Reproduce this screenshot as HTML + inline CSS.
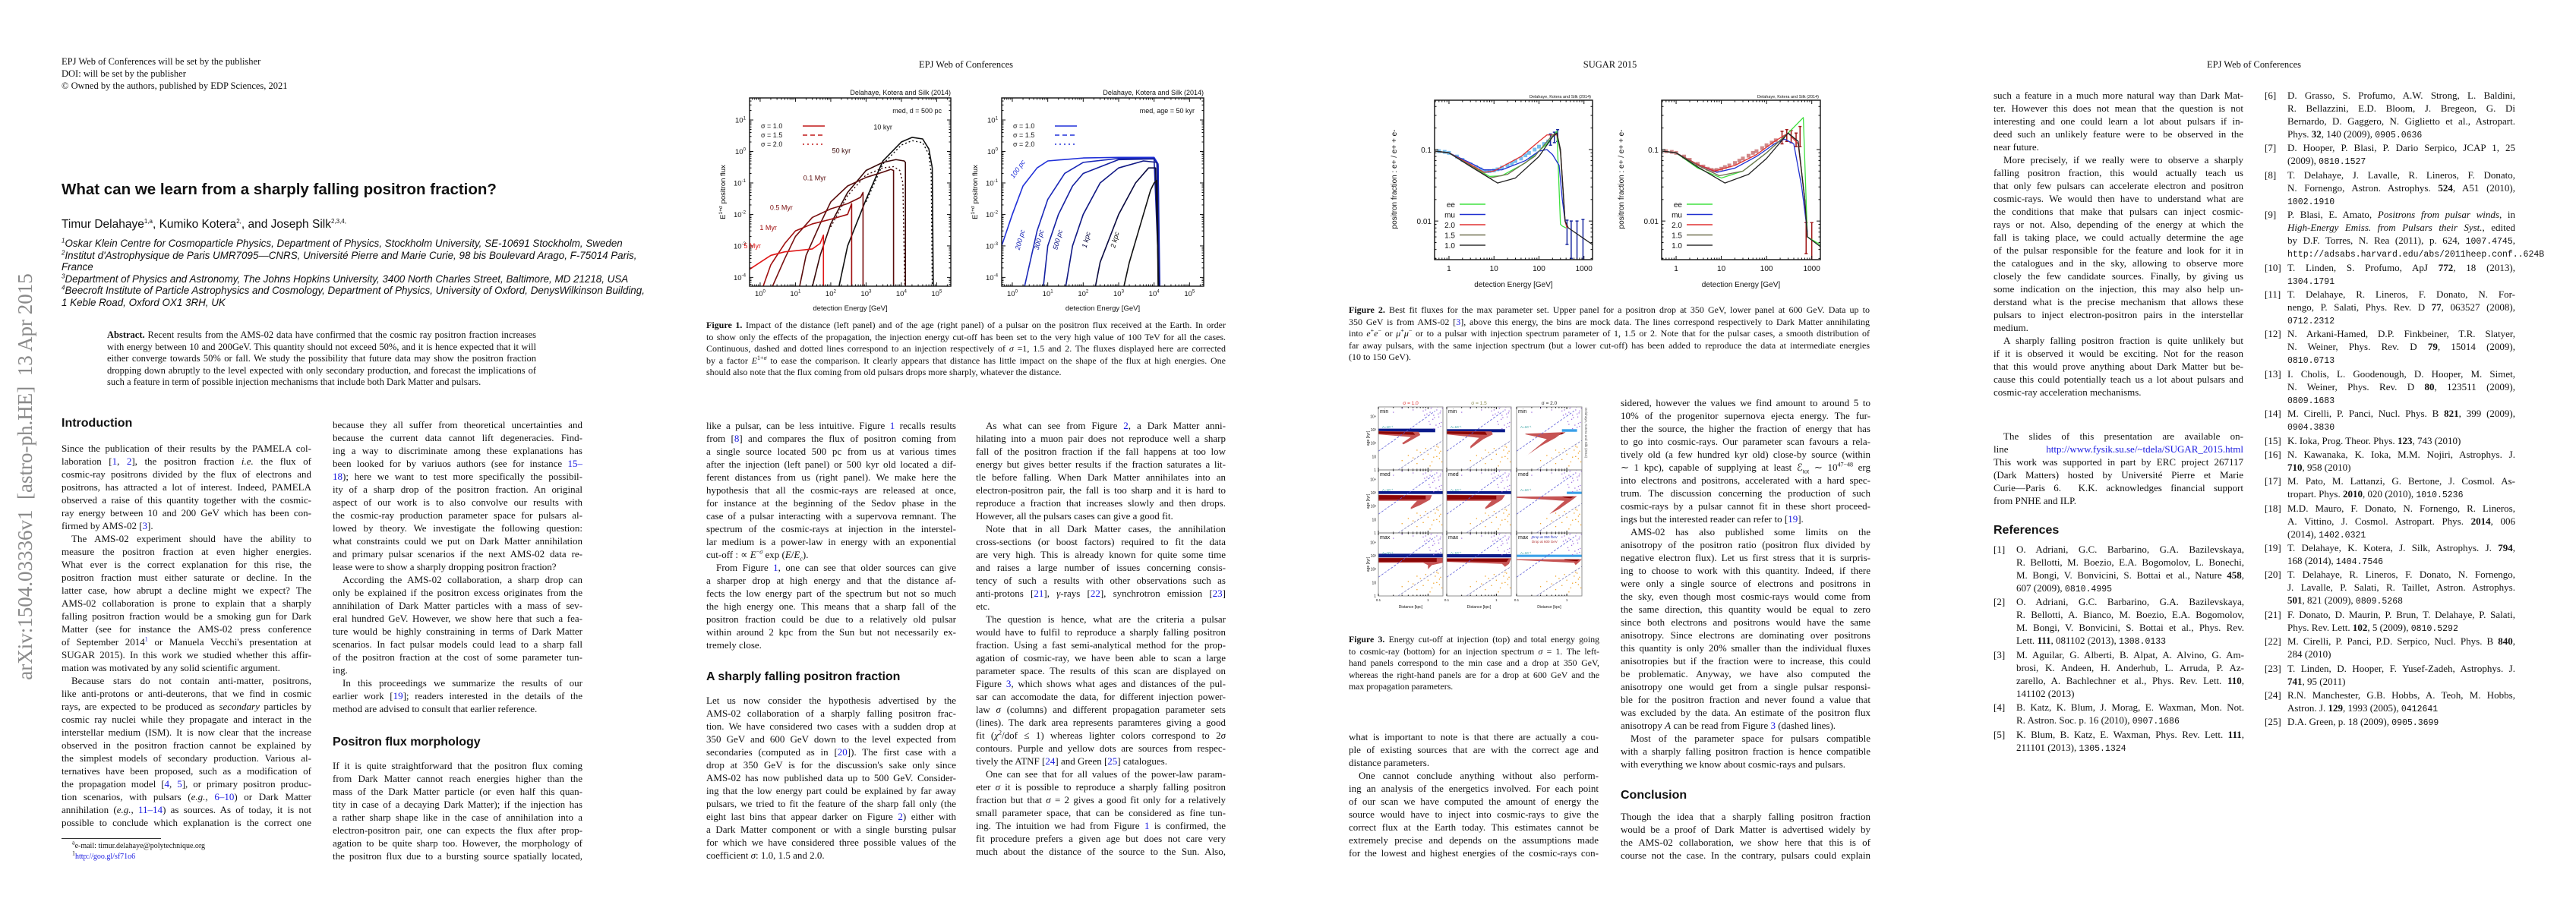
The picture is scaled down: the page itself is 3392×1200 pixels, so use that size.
<!DOCTYPE html>
<html><head><meta charset="utf-8">
<style>
html,body{margin:0;padding:0;background:#fff}
body{width:3392px;height:1200px;position:relative;overflow:hidden;font-family:"Liberation Serif",serif;color:#111}
.a{position:absolute}
.hd{position:absolute;font-size:12.5px;line-height:16px;white-space:nowrap}
.p{position:absolute;font-size:13px;line-height:17px;width:329px}
.p div{height:17px;overflow:hidden;text-align:justify;text-align-last:justify;white-space:normal}
.p div.e{text-align-last:left}
.p div.i{text-indent:13px}
.cap{position:absolute;font-size:12px;line-height:15.6px}
.cap div{height:15.6px;overflow:hidden;text-align:justify;text-align-last:justify}
.cap div.e{text-align-last:left}
.h{position:absolute;font-family:"Liberation Sans",sans-serif;font-weight:bold;font-size:16px;white-space:nowrap}
.af{position:absolute;left:81px;font-family:"Liberation Sans",sans-serif;font-style:italic;font-size:13.4px;line-height:15.6px;width:690px}
.af div{height:15.6px;white-space:nowrap}
.ref{position:absolute;font-size:13px;line-height:17px;width:330px}
.ref .r{position:relative;padding-left:30px;margin-bottom:1.4px}
.ref .r>span.n{position:absolute;left:0;top:0}
.ref .r div{height:17px;overflow:visible;text-align:justify;text-align-last:justify;white-space:nowrap}
.ref .r div.e{text-align-last:left}
.m{font-family:"Liberation Mono",monospace;font-size:11.5px}
.bl{color:#1a1ae0}
sup{font-size:8px;line-height:0}
svg text{font-family:"Liberation Sans",sans-serif}
</style></head><body>

<!-- arXiv stamp -->
<div class="a" style="left:33px;top:628px;width:0;height:0">
<div style="position:absolute;left:-290px;top:-16px;width:580px;text-align:center;transform:rotate(-90deg);font-size:27px;color:#8a8a8a;white-space:nowrap;line-height:32px">arXiv:1504.03336v1 &nbsp;[astro-ph.HE] &nbsp;13 Apr 2015</div>
</div>

<!-- PAGE 1 -->
<div class="hd" style="left:81px;top:73px">EPJ Web of Conferences will be set by the publisher<br>DOI: will be set by the publisher<br>© Owned by the authors, published by EDP Sciences, 2021</div>
<div class="a" style="left:81px;top:238px;font-family:'Liberation Sans',sans-serif;font-weight:bold;font-size:20.5px;white-space:nowrap">What can we learn from a sharply falling positron fraction?</div>
<div class="a" style="left:81px;top:287px;font-family:'Liberation Sans',sans-serif;font-size:15.5px;white-space:nowrap">Timur Delahaye<sup>1,a</sup>, Kumiko Kotera<sup>2,</sup>, and Joseph Silk<sup>2,3,4,</sup></div>
<div class="af" style="top:313px">
<div><sup>1</sup>Oskar Klein Centre for Cosmoparticle Physics, Department of Physics, Stockholm University, SE-10691 Stockholm, Sweden</div>
<div><sup>2</sup>Institut d'Astrophysique de Paris UMR7095—CNRS, Université Pierre and Marie Curie, 98 bis Boulevard Arago, F-75014 Paris,</div>
<div>France</div>
<div><sup>3</sup>Department of Physics and Astronomy, The Johns Hopkins University, 3400 North Charles Street, Baltimore, MD 21218, USA</div>
<div><sup>4</sup>Beecroft Institute of Particle Astrophysics and Cosmology, Department of Physics, University of Oxford, DenysWilkinson Building,</div>
<div>1 Keble Road, Oxford OX1 3RH, UK</div>
</div>
<div class="cap" style="left:141px;top:434px;width:565px;font-size:12.5px">
<div><b>Abstract.</b> Recent results from the AMS-02 data have confirmed that the cosmic ray positron fraction increases</div>
<div>with energy between 10 and 200GeV. This quantity should not exceed 50%, and it is hence expected that it will</div>
<div>either converge towards 50% or fall. We study the possibility that future data may show the positron fraction</div>
<div>dropping down abruptly to the level expected with only secondary production, and forecast the implications of</div>
<div class="e">such a feature in term of possible injection mechanisms that include both Dark Matter and pulsars.</div>
</div>
<div class="h" style="left:81px;top:549px">Introduction</div>
<div class="p" style="left:81px;top:582px">
<div>Since the publication of their results by the PAMELA col-</div>
<div>laboration [<span class="bl">1</span>, <span class="bl">2</span>], the positron fraction <i>i.e.</i> the flux of</div>
<div>cosmic-ray positrons divided by the flux of electrons and</div>
<div>positrons, has attracted a lot of interest. Indeed, PAMELA</div>
<div>observed a raise of this quantity together with the cosmic-</div>
<div>ray energy between 10 and 200 GeV which has been con-</div>
<div class="e">firmed by AMS-02 [<span class="bl">3</span>].</div>
<div class="i">The AMS-02 experiment should have the ability to</div>
<div>measure the positron fraction at even higher energies.</div>
<div>What ever is the correct explanation for this rise, the</div>
<div>positron fraction must either saturate or decline. In the</div>
<div>latter case, how abrupt a decline might we expect? The</div>
<div>AMS-02 collaboration is prone to explain that a sharply</div>
<div>falling positron fraction would be a smoking gun for Dark</div>
<div>Matter (see for instance the AMS-02 press conference</div>
<div>of September 2014<sup class="bl">1</sup> or Manuela Vecchi's presentation at</div>
<div>SUGAR 2015). In this work we studied whether this affir-</div>
<div class="e">mation was motivated by any solid scientific argument.</div>
<div class="i">Because stars do not contain anti-matter, positrons,</div>
<div>like anti-protons or anti-deuterons, that we find in cosmic</div>
<div>rays, are expected to be produced as <i>secondary</i> particles by</div>
<div>cosmic ray nuclei while they propagate and interact in the</div>
<div>interstellar medium (ISM). It is now clear that the increase</div>
<div>observed in the positron fraction cannot be explained by</div>
<div>the simplest models of secondary production. Various al-</div>
<div>ternatives have been proposed, such as a modification of</div>
<div>the propagation model [<span class="bl">4</span>, <span class="bl">5</span>], or primary positron produc-</div>
<div>tion scenarios, with pulsars (<i>e.g.</i>, <span class="bl">6–10</span>) or Dark Matter</div>
<div>annihilation (<i>e.g.</i>, <span class="bl">11–14</span>) as sources. As of today, it is not</div>
<div>possible to conclude which explanation is the correct one</div>
</div>
<div class="a" style="left:81px;top:1104px;width:131px;height:1px;background:#333"></div>
<div class="a" style="left:95px;top:1108px;font-size:10px;line-height:14px;white-space:nowrap"><sup>a</sup>e-mail: timur.delahaye@polytechnique.org<br><sup>1</sup><span class="bl">http://goo.gl/sf71o6</span></div>

<div class="p" style="left:438px;top:551px">
<div>because they all suffer from theoretical uncertainties and</div>
<div>because the current data cannot lift degeneracies. Find-</div>
<div>ing a way to discriminate among these explanations has</div>
<div>been looked for by variuos authors (see for instance <span class="bl">15–</span></div>
<div><span class="bl">18</span>); here we want to test more specifically the possibil-</div>
<div>ity of a sharp drop of the positron fraction. An original</div>
<div>aspect of our work is to also convolve our results with</div>
<div>the cosmic-ray production parameter space for pulsars al-</div>
<div>lowed by theory. We investigate the following question:</div>
<div>what constraints could we put on Dark Matter annihilation</div>
<div>and primary pulsar scenarios if the next AMS-02 data re-</div>
<div class="e">lease were to show a sharply dropping positron fraction?</div>
<div class="i">According the AMS-02 collaboration, a sharp drop can</div>
<div>only be explained if the positron excess originates from the</div>
<div>annihilation of Dark Matter particles with a mass of sev-</div>
<div>eral hundred GeV. However, we show here that such a fea-</div>
<div>ture would be highly constraining in terms of Dark Matter</div>
<div>scenarios. In fact pulsar models could lead to a sharp fall</div>
<div>of the positron fraction at the cost of some parameter tun-</div>
<div class="e">ing.</div>
<div class="i">In this proceedings we summarize the results of our</div>
<div>earlier work [<span class="bl">19</span>]; readers interested in the details of the</div>
<div class="e">method are advised to consult that earlier reference.</div>
</div>
<div class="h" style="left:438px;top:969px">Positron flux morphology</div>
<div class="p" style="left:438px;top:1000px">
<div>If it is quite straightforward that the positron flux coming</div>
<div>from Dark Matter cannot reach energies higher than the</div>
<div>mass of the Dark Matter particle (or even half this quan-</div>
<div>tity in case of a decaying Dark Matter); if the injection has</div>
<div>a rather sharp shape like in the case of annihilation into a</div>
<div>electron-positron pair, one can expects the flux after prop-</div>
<div>agation to be quite sharp too. However, the morphology of</div>
<div>the positron flux due to a bursting source spatially located,</div>
</div>

<!-- PAGE 2 -->
<div class="hd" style="left:1172px;top:77px;width:200px;text-align:center">EPJ Web of Conferences</div>
<div class="cap" style="left:930px;top:421px;width:684px">
<div><b>Figure 1.</b> Impact of the distance (left panel) and of the age (right panel) of a pulsar on the positron flux received at the Earth. In order</div>
<div>to show only the effects of the propagation, the injection energy cut-off has been set to the very high value of 100 TeV for all the cases.</div>
<div>Continuous, dashed and dotted lines correspond to an injection respectively of <i>σ</i> =1, 1.5 and 2. The fluxes displayed here are corrected</div>
<div>by a factor <i>E</i><sup>1+<i>σ</i></sup> to ease the comparison. It clearly appears that distance has little impact on the shape of the flux at high energies. One</div>
<div class="e">should also note that the flux coming from old pulsars drops more sharply, whatever the distance.</div>
</div>
<div class="p" style="left:930px;top:552px">
<div>like a pulsar, can be less intuitive. Figure <span class="bl">1</span> recalls results</div>
<div>from [<span class="bl">8</span>] and compares the flux of positron coming from</div>
<div>a single source located 500 pc from us at various times</div>
<div>after the injection (left panel) or 500 kyr old located a dif-</div>
<div>ferent distances from us (right panel). We make here the</div>
<div>hypothesis that all the cosmic-rays are released at once,</div>
<div>for instance at the beginning of the Sedov phase in the</div>
<div>case of a pulsar interacting with a supervova remnant. The</div>
<div>spectrum of the cosmic-rays at injection in the interstel-</div>
<div>lar medium is a power-law in energy with an exponential</div>
<div class="e">cut-off : ∝ <i>E</i><sup>−<i>σ</i></sup> exp (<i>E</i>/<i>E<sub style="font-size:8px">c</sub></i>).</div>
<div class="i">From Figure <span class="bl">1</span>, one can see that older sources can give</div>
<div>a sharper drop at high energy and that the distance af-</div>
<div>fects the low energy part of the spectrum but not so much</div>
<div>the high energy one. This means that a sharp fall of the</div>
<div>positron fraction could be due to a relatively old pulsar</div>
<div>within around 2 kpc from the Sun but not necessarily ex-</div>
<div class="e">tremely close.</div>
</div>
<div class="h" style="left:930px;top:883px">A sharply falling positron fraction</div>
<div class="p" style="left:930px;top:914px">
<div>Let us now consider the hypothesis advertised by the</div>
<div>AMS-02 collaboration of a sharply falling positron frac-</div>
<div>tion. We have considered two cases with a sudden drop at</div>
<div>350 GeV and 600 GeV down to the level expected from</div>
<div>secondaries (computed as in [<span class="bl">20</span>]). The first case with a</div>
<div>drop at 350 GeV is for the discussion's sake only since</div>
<div>AMS-02 has now published data up to 500 GeV. Consider-</div>
<div>ing that the low energy part could be explained by far away</div>
<div>pulsars, we tried to fit the feature of the sharp fall only (the</div>
<div>eight last bins that appear darker on Figure <span class="bl">2</span>) either with</div>
<div>a Dark Matter component or with a single bursting pulsar</div>
<div>for which we have considered three possible values of the</div>
<div class="e">coefficient <i>σ</i>: 1.0, 1.5 and 2.0.</div>
</div>
<div class="p" style="left:1285px;top:552px">
<div class="i">As what can see from Figure <span class="bl">2</span>, a Dark Matter anni-</div>
<div>hilating into a muon pair does not reproduce well a sharp</div>
<div>fall of the positron fraction if the fall happens at too low</div>
<div>energy but gives better results if the fraction saturates a lit-</div>
<div>tle before falling. When Dark Matter annihilates into an</div>
<div>electron-positron pair, the fall is too sharp and it is hard to</div>
<div>reproduce a fraction that increases slowly and then drops.</div>
<div class="e">However, all the pulsars cases can give a good fit.</div>
<div class="i">Note that in all Dark Matter cases, the annihilation</div>
<div>cross-sections (or boost factors) required to fit the data</div>
<div>are very high. This is already known for quite some time</div>
<div>and raises a large number of issues concerning consis-</div>
<div>tency of such a results with other observations such as</div>
<div>anti-protons [<span class="bl">21</span>], <i>γ</i>-rays [<span class="bl">22</span>], synchrotron emission [<span class="bl">23</span>]</div>
<div class="e">etc.</div>
<div class="i">The question is hence, what are the criteria a pulsar</div>
<div>would have to fulfil to reproduce a sharply falling positron</div>
<div>fraction. Using a fast semi-analytical method for the prop-</div>
<div>agation of cosmic-ray, we have been able to scan a large</div>
<div>parameter space. The results of this scan are displayed on</div>
<div>Figure <span class="bl">3</span>, which shows what ages and distances of the pul-</div>
<div>sar can accomodate the data, for different injection power-</div>
<div>law <i>σ</i> (columns) and different propagation parameter sets</div>
<div>(lines). The dark area represents paramteres giving a good</div>
<div>fit (<i>χ</i><sup>2</sup>/dof ≤ 1) whereas lighter colors correspond to 2<i>σ</i></div>
<div>contours. Purple and yellow dots are sources from respec-</div>
<div class="e">tively the ATNF [<span class="bl">24</span>] and Green [<span class="bl">25</span>] catalogues.</div>
<div class="i">One can see that for all values of the power-law param-</div>
<div>eter <i>σ</i> it is possible to reproduce a sharply falling positron</div>
<div>fraction but that <i>σ</i> = 2 gives a good fit only for a relatively</div>
<div>small parameter space, that can be considered as fine tun-</div>
<div>ing. The intuition we had from Figure <span class="bl">1</span> is confirmed, the</div>
<div>fit procedure prefers a given age but does not care very</div>
<div>much about the distance of the source to the Sun. Also,</div>
</div>

<!-- PAGE 3 -->
<div class="hd" style="left:2020px;top:77px;width:200px;text-align:center">SUGAR 2015</div>
<div class="cap" style="left:1776px;top:401px;width:686px">
<div><b>Figure 2.</b> Best fit fluxes for the max parameter set. Upper panel for a positron drop at 350 GeV, lower panel at 600 GeV. Data up to</div>
<div>350 GeV is from AMS-02 [<span class="bl">3</span>], above this energy, the bins are mock data. The lines correspond respectively to Dark Matter annihilating</div>
<div>into <i>e</i><sup>+</sup><i>e</i><sup>−</sup> or <i>μ</i><sup>+</sup><i>μ</i><sup>−</sup> or to a pulsar with injection spectrum parameter of 1, 1.5 or 2. Note that for the pulsar cases, a smooth distribution of</div>
<div>far away pulsars, with the same injection spectrum (but a lower cut-off) has been added to reproduce the data at intermediate energies</div>
<div class="e">(10 to 150 GeV).</div>
</div>
<div class="cap" style="left:1776px;top:835px;width:330px;font-size:11.8px">
<div><b>Figure 3.</b> Energy cut-off at injection (top) and total energy going</div>
<div>to cosmic-ray (bottom) for an injection spectrum <i>σ</i> = 1. The left-</div>
<div>hand panels correspond to the min case and a drop at 350 GeV,</div>
<div>whereas the right-hand panels are for a drop at 600 GeV and the</div>
<div class="e">max propagation parameters.</div>
</div>
<div class="p" style="left:1776px;top:962px">
<div>what is important to note is that there are actually a cou-</div>
<div>ple of existing sources that are with the correct age and</div>
<div class="e">distance parameters.</div>
<div class="i">One cannot conclude anything without also perform-</div>
<div>ing an analysis of the energetics involved. For each point</div>
<div>of our scan we have computed the amount of energy the</div>
<div>source would have to inject into cosmic-rays to give the</div>
<div>correct flux at the Earth today. This estimates cannot be</div>
<div>extremely precise and depends on the assumptions made</div>
<div>for the lowest and highest energies of the cosmic-rays con-</div>
</div>
<div class="p" style="left:2134px;top:522px">
<div>sidered, however the values we find amount to around 5 to</div>
<div>10% of the progenitor supernova ejecta energy. The fur-</div>
<div>ther the source, the higher the fraction of energy that has</div>
<div>to go into cosmic-rays. Our parameter scan favours a rela-</div>
<div>tively old (a few hundred kyr old) close-by source (within</div>
<div>∼ 1 kpc), capable of supplying at least ℰ<sub style="font-size:8px">tot</sub> ∼ 10<sup>47−48</sup> erg</div>
<div>into electrons and positrons, accelerated with a hard spec-</div>
<div>trum. The discussion concerning the production of such</div>
<div>cosmic-rays by a pulsar cannot fit in these short proceed-</div>
<div class="e">ings but the interested reader can refer to [<span class="bl">19</span>].</div>
<div class="i">AMS-02 has also published some limits on the</div>
<div>anisotropy of the positron ratio (positron flux divided by</div>
<div>negative electron flux). Let us first stress that it is surpris-</div>
<div>ing to choose to work with this quantity. Indeed, if there</div>
<div>were only a single source of electrons and positrons in</div>
<div>the sky, even though most cosmic-rays would come from</div>
<div>the same direction, this quantity would be equal to zero</div>
<div>since both electrons and positrons would have the same</div>
<div>anisotropy. Since electrons are dominating over positrons</div>
<div>this quantity is only 20% smaller than the individual fluxes</div>
<div>anisotropies but if the fraction were to increase, this could</div>
<div>be problematic. Anyway, we have also computed the</div>
<div>anisotropy one would get from a single pulsar responsi-</div>
<div>ble for the positron fraction and never found a value that</div>
<div>was excluded by the data. An estimate of the positron flux</div>
<div class="e">anisotropy <i>A</i> can be read from Figure <span class="bl">3</span> (dashed lines).</div>
<div class="i">Most of the parameter space for pulsars compatible</div>
<div>with a sharply falling positron fraction is hence compatible</div>
<div class="e">with everything we know about cosmic-rays and pulsars.</div>
</div>
<div class="h" style="left:2134px;top:1039px">Conclusion</div>
<div class="p" style="left:2134px;top:1067px">
<div>Though the idea that a sharply falling positron fraction</div>
<div>would be a proof of Dark Matter is advertised widely by</div>
<div>the AMS-02 collaboration, we show here that this is of</div>
<div>course not the case. In the contrary, pulsars could explain</div>
</div>

<!-- PAGE 4 -->
<div class="hd" style="left:2868px;top:77px;width:200px;text-align:center">EPJ Web of Conferences</div>
<div class="p" style="left:2625px;top:117px">
<div>such a feature in a much more natural way than Dark Mat-</div>
<div>ter. However this does not mean that the question is not</div>
<div>interesting and one could learn a lot about pulsars if in-</div>
<div>deed such an unlikely feature were to be observed in the</div>
<div class="e">near future.</div>
<div class="i">More precisely, if we really were to observe a sharply</div>
<div>falling positron fraction, this would actually teach us</div>
<div>that only few pulsars can accelerate electron and positron</div>
<div>cosmic-rays. We would then have to understand what are</div>
<div>the conditions that make that pulsars can inject cosmic-</div>
<div>rays or not. Also, depending of the energy at which the</div>
<div>fall is taking place, we could actually determine the age</div>
<div>of the pulsar responsible for the feature and look for it in</div>
<div>the catalogues and in the sky, allowing to observe more</div>
<div>closely the few candidate sources. Finally, by giving us</div>
<div>some indication on the injection, this may also help un-</div>
<div>derstand what is the precise mechanism that allows these</div>
<div>pulsars to inject electron-positron pairs in the interstellar</div>
<div class="e">medium.</div>
<div class="i">A sharply falling positron fraction is quite unlikely but</div>
<div>if it is observed it would be exciting. Not for the reason</div>
<div>that this would prove anything about Dark Matter but be-</div>
<div>cause this could potentially teach us a lot about pulsars and</div>
<div class="e">cosmic-ray acceleration mechanisms.</div>
</div>
<div class="p" style="left:2625px;top:566px">
<div class="i">The slides of this presentation are available on-</div>
<div>line &nbsp;<span class="bl">http://www.fysik.su.se/~tdela/SUGAR_2015.html</span></div>
<div>This work was supported in part by ERC project 267117</div>
<div>(Dark Matters) hosted by Université Pierre et Marie</div>
<div>Curie—Paris 6. &nbsp;K.K. acknowledges financial support</div>
<div class="e">from PNHE and ILP.</div>
</div>
<div class="h" style="left:2625px;top:690px">References</div>
<div class="ref" style="left:2625px;top:715px">
<div class="r"><span class="n">[1]</span><div>O. Adriani, G.C. Barbarino, G.A. Bazilevskaya,</div><div>R. Bellotti, M. Boezio, E.A. Bogomolov, L. Bonechi,</div><div>M. Bongi, V. Bonvicini, S. Bottai et al., Nature <b>458</b>,</div><div class="e">607 (2009), <span class="m">0810.4995</span></div></div>
<div class="r"><span class="n">[2]</span><div>O. Adriani, G.C. Barbarino, G.A. Bazilevskaya,</div><div>R. Bellotti, A. Bianco, M. Boezio, E.A. Bogomolov,</div><div>M. Bongi, V. Bonvicini, S. Bottai et al., Phys. Rev.</div><div class="e">Lett. <b>111</b>, 081102 (2013), <span class="m">1308.0133</span></div></div>
<div class="r"><span class="n">[3]</span><div>M. Aguilar, G. Alberti, B. Alpat, A. Alvino, G. Am-</div><div>brosi, K. Andeen, H. Anderhub, L. Arruda, P. Az-</div><div>zarello, A. Bachlechner et al., Phys. Rev. Lett. <b>110</b>,</div><div class="e">141102 (2013)</div></div>
<div class="r"><span class="n">[4]</span><div>B. Katz, K. Blum, J. Morag, E. Waxman, Mon. Not.</div><div class="e">R. Astron. Soc. p. 16 (2010), <span class="m">0907.1686</span></div></div>
<div class="r"><span class="n">[5]</span><div>K. Blum, B. Katz, E. Waxman, Phys. Rev. Lett. <b>111</b>,</div><div class="e">211101 (2013), <span class="m">1305.1324</span></div></div>
</div>
<div class="ref" style="left:2982px;top:117px">
<div class="r"><span class="n">[6]</span><div>D. Grasso, S. Profumo, A.W. Strong, L. Baldini,</div><div>R. Bellazzini, E.D. Bloom, J. Bregeon, G. Di</div><div>Bernardo, D. Gaggero, N. Giglietto et al., Astropart.</div><div class="e">Phys. <b>32</b>, 140 (2009), <span class="m">0905.0636</span></div></div>
<div class="r"><span class="n">[7]</span><div>D. Hooper, P. Blasi, P. Dario Serpico, JCAP 1, 25</div><div class="e">(2009), <span class="m">0810.1527</span></div></div>
<div class="r"><span class="n">[8]</span><div>T. Delahaye, J. Lavalle, R. Lineros, F. Donato,</div><div>N. Fornengo, Astron. Astrophys. <b>524</b>, A51 (2010),</div><div class="e"><span class="m">1002.1910</span></div></div>
<div class="r"><span class="n">[9]</span><div>P. Blasi, E. Amato, <i>Positrons from pulsar winds</i>, in</div><div><i>High-Energy Emiss. from Pulsars their Syst.</i>, edited</div><div>by D.F. Torres, N. Rea (2011), p. 624, <span class="m">1007.4745</span>,</div><div class="e"><span class="m">http://adsabs.harvard.edu/abs/2011heep.conf..624B</span></div></div>
<div class="r"><span class="n">[10]</span><div>T. Linden, S. Profumo, ApJ <b>772</b>, 18 (2013),</div><div class="e"><span class="m">1304.1791</span></div></div>
<div class="r"><span class="n">[11]</span><div>T. Delahaye, R. Lineros, F. Donato, N. For-</div><div>nengo, P. Salati, Phys. Rev. D <b>77</b>, 063527 (2008),</div><div class="e"><span class="m">0712.2312</span></div></div>
<div class="r"><span class="n">[12]</span><div>N. Arkani-Hamed, D.P. Finkbeiner, T.R. Slatyer,</div><div>N. Weiner, Phys. Rev. D <b>79</b>, 15014 (2009),</div><div class="e"><span class="m">0810.0713</span></div></div>
<div class="r"><span class="n">[13]</span><div>I. Cholis, L. Goodenough, D. Hooper, M. Simet,</div><div>N. Weiner, Phys. Rev. D <b>80</b>, 123511 (2009),</div><div class="e"><span class="m">0809.1683</span></div></div>
<div class="r"><span class="n">[14]</span><div>M. Cirelli, P. Panci, Nucl. Phys. B <b>821</b>, 399 (2009),</div><div class="e"><span class="m">0904.3830</span></div></div>
<div class="r"><span class="n">[15]</span><div class="e">K. Ioka, Prog. Theor. Phys. <b>123</b>, 743 (2010)</div></div>
<div class="r"><span class="n">[16]</span><div>N. Kawanaka, K. Ioka, M.M. Nojiri, Astrophys. J.</div><div class="e"><b>710</b>, 958 (2010)</div></div>
<div class="r"><span class="n">[17]</span><div>M. Pato, M. Lattanzi, G. Bertone, J. Cosmol. As-</div><div class="e">tropart. Phys. <b>2010</b>, 020 (2010), <span class="m">1010.5236</span></div></div>
<div class="r"><span class="n">[18]</span><div>M.D. Mauro, F. Donato, N. Fornengo, R. Lineros,</div><div>A. Vittino, J. Cosmol. Astropart. Phys. <b>2014</b>, 006</div><div class="e">(2014), <span class="m">1402.0321</span></div></div>
<div class="r"><span class="n">[19]</span><div>T. Delahaye, K. Kotera, J. Silk, Astrophys. J. <b>794</b>,</div><div class="e">168 (2014), <span class="m">1404.7546</span></div></div>
<div class="r"><span class="n">[20]</span><div>T. Delahaye, R. Lineros, F. Donato, N. Fornengo,</div><div>J. Lavalle, P. Salati, R. Taillet, Astron. Astrophys.</div><div class="e"><b>501</b>, 821 (2009), <span class="m">0809.5268</span></div></div>
<div class="r"><span class="n">[21]</span><div>F. Donato, D. Maurin, P. Brun, T. Delahaye, P. Salati,</div><div class="e">Phys. Rev. Lett. <b>102</b>, 5 (2009), <span class="m">0810.5292</span></div></div>
<div class="r"><span class="n">[22]</span><div>M. Cirelli, P. Panci, P.D. Serpico, Nucl. Phys. B <b>840</b>,</div><div class="e">284 (2010)</div></div>
<div class="r"><span class="n">[23]</span><div>T. Linden, D. Hooper, F. Yusef-Zadeh, Astrophys. J.</div><div class="e"><b>741</b>, 95 (2011)</div></div>
<div class="r"><span class="n">[24]</span><div>R.N. Manchester, G.B. Hobbs, A. Teoh, M. Hobbs,</div><div class="e">Astron. J. <b>129</b>, 1993 (2005), <span class="m">0412641</span></div></div>
<div class="r"><span class="n">[25]</span><div class="e">D.A. Green, p. 18 (2009), <span class="m">0905.3699</span></div></div>
</div>

<svg id="figs" class="a" style="left:0;top:0" width="3392" height="1200" xmlns="http://www.w3.org/2000/svg"></svg>

<script>
// ---------- Figure 1 data (E in GeV, E^(1+sigma) flux) ----------
const f1AgeLabels = ["10 kyr","50 kyr","0.1 Myr","0.5 Myr","1 Myr","5 Myr"];
const f1Age10kyrE = [170,300,1000,3000,10000,20000,40000,60000,75000,80000];
const f1Age10kyrF = [5e-5,1e-3,3e-2,0.5,2.0,2.8,2.5,1.2,0.3,5e-5];
const f1Age50kyrE = [30,50,100,300,1000,3000,7000,12000,13000,13000];
const f1Age50kyrF = [5e-5,5e-4,5e-3,5e-2,0.25,0.45,0.55,0.5,0.45,5e-5];
const f1Age01MyrE = [13,20,50,100,300,1000,3000,5000,6000,6000];
const f1Age01MyrF = [5e-5,5e-4,5e-3,2.5e-2,8e-2,0.15,0.22,0.27,0.25,5e-5];
const f1Age05MyrE = [2.2,5,10,30,100,300,700,820,820];
const f1Age05MyrF = [5e-5,4e-4,2e-3,8e-3,1.5e-2,2.2e-2,3.5e-2,5e-2,5e-5];
const f1Age1MyrE = [1.2,2,5,10,30,100,300,390,390];
const f1Age1MyrF = [5e-5,2.5e-4,1.2e-3,3e-3,5e-3,7e-3,1e-2,2.2e-2,5e-5];
const f1Age5MyrE = [0.5,1,2,5,10,30,50,62,62];
const f1Age5MyrF = [1.8e-4,3e-4,5e-4,6.5e-4,7e-4,8e-4,1.2e-3,2.2e-3,5e-5];
const f1Age50kyrDotE = [100,300,1000,3000,6000,9000,11000,12500];
const f1Age50kyrDotF = [4e-3,4e-2,0.18,0.3,0.33,0.25,0.1,5e-5];
const f1Age10kyrDotE = [1000,3000,10000,20000,40000,60000,70000,75000];
const f1Age10kyrDotF = [2.5e-2,0.4,1.6,2.2,1.9,0.8,0.2,5e-5];
const f1DistLabels = ["100 pc","200 pc","300 pc","500 pc","1 kpc","2 kpc"];
const f1D100E = [0.5,1,2,5,10,100,1000,10000,13000,14000];
const f1D100F = [1e-3,1e-2,0.08,0.3,0.5,0.62,0.65,0.65,0.4,5e-5];
const f1D200E = [2.2,5,10,30,100,1000,10000,13000,14500];
const f1D200F = [5e-5,3e-3,0.03,0.2,0.45,0.6,0.6,0.35,5e-5];
const f1D300E = [7.5,10,20,50,100,1000,10000,14000];
const f1D300F = [5e-5,1e-3,1e-2,0.08,0.2,0.55,0.58,5e-5];
const f1D500E = [32,50,100,300,1000,5000,12000,14000];
const f1D500F = [5e-5,1e-3,1e-2,0.1,0.3,0.5,0.45,5e-5];
const f1D1kE = [220,300,1000,3000,7000,11000,13500];
const f1D1kF = [5e-5,3e-4,1e-2,0.1,0.3,0.3,5e-5];
const f1D2kE = [1400,2000,5000,8000,10000,12000,13000];
const f1D2kF = [5e-5,3e-4,1e-2,0.06,0.1,0.12,5e-5];
const f1XTicks = [0,1,2,3,4,5];
const f1YTicks = [-4,-3,-2,-1,0,1];

// ---------- Figure 2 data (E GeV, positron fraction) ----------
const f2SeriesNames = ["ee","mu","2.0","1.5","1.0"];
const f2aEeE = [0.5,1,3,8,15,50,150,250,300,330,400];
const f2aEeF = [0.095,0.09,0.06,0.042,0.043,0.065,0.12,0.18,0.009,0.0085,0.008];
const f2aMuE = [0.5,1,3,6,15,50,100,150,200,280,330,380,420];
const f2aMuF = [0.095,0.09,0.065,0.052,0.052,0.07,0.095,0.1,0.085,0.06,0.02,0.01,0.008];
const f2a20E = [0.5,1,3,6,10,40,100,150,250,300,380,420];
const f2a20F = [0.095,0.09,0.062,0.048,0.05,0.08,0.13,0.16,0.16,0.1,0.01,0.008];
const f2a15E = [0.5,1,3,8,20,80,200,250,300,380];
const f2a15F = [0.095,0.09,0.06,0.04,0.045,0.08,0.16,0.17,0.09,0.01];
const f2a10E = [0.5,1,3,12,30,100,200,250,300,380,450,1700];
const f2a10F = [0.095,0.09,0.058,0.034,0.04,0.08,0.15,0.17,0.1,0.01,0.008,0.0045];
const f2bEeE = [0.5,1,3,10,30,100,300,650,800,1700];
const f2bEeF = [0.095,0.09,0.055,0.04,0.05,0.09,0.17,0.28,0.006,0.0045];
const f2bMuE = [0.5,1,3,8,20,60,150,250,400,600,800];
const f2bMuF = [0.095,0.09,0.062,0.048,0.055,0.08,0.12,0.14,0.12,0.03,0.007];
const f2b20E = [0.5,1,3,7,20,60,150,300,500,700,800];
const f2b20F = [0.095,0.09,0.062,0.05,0.06,0.085,0.13,0.17,0.12,0.02,0.006];
const f2b15E = [0.5,1,3,9,30,100,300,500,700,800];
const f2b15F = [0.095,0.09,0.06,0.043,0.05,0.09,0.17,0.13,0.02,0.006];
const f2b10E = [0.5,1,3,12,40,100,300,500,700,800,1700];
const f2b10F = [0.095,0.09,0.057,0.034,0.045,0.075,0.17,0.13,0.02,0.006,0.0042];
const f2DataE = [0.6,0.8,1,1.5,2,3,4,5,6,7,8,10,12,15,20,25,30,40,50,60,80,100,130,160];
const f2DataAF = [0.095,0.093,0.09,0.08,0.072,0.062,0.057,0.053,0.05,0.05,0.05,0.051,0.053,0.056,0.06,0.064,0.069,0.075,0.083,0.09,0.1,0.11,0.12,0.13];
const f2DataBF = [0.095,0.093,0.09,0.08,0.072,0.063,0.058,0.054,0.052,0.051,0.052,0.054,0.057,0.06,0.065,0.07,0.075,0.082,0.09,0.095,0.105,0.115,0.125,0.135];
const f2MockAE = [180,220,260,420,520,700,950];
const f2MockAF = [0.14,0.15,0.16,0.0075,0.0065,0.0055,0.005];
const f2MockAErr = [0.025,0.025,0.03,0.0028,0.0035,0.0045,0.0055];
const f2MockBE = [220,280,350,450,550,750,1000];
const f2MockBF = [0.15,0.16,0.155,0.14,0.16,0.0065,0.005];
const f2MockBErr = [0.03,0.03,0.03,0.03,0.05,0.003,0.0045];
const f2XTicks = [1,10,100,1000];
const f2YTicks = [0.1,0.01];

// ---------- Figure 3 data (distance kpc, age kyr) ----------
const f3ColTitles = ["σ = 1.0","σ = 1.5","σ = 2.0"];
const f3RowTitles = ["min","med","max"];
const f3BlueBand = [[0.1,1.4,650,1200],[0.1,1.5,650,1100],[0.8,1.6,700,1100],[0.1,2,800,1300],[0.1,2,800,1300],[1.0,2,800,1200],[0.1,2,750,1400],[0.1,2,750,1300],[0.1,2,800,1200]];
const f3LightRed = [
 [[0.1,800],[0.65,700],[0.7,400],[0.5,200],[0.32,80],[0.3,100],[0.45,280],[0.1,450]],
 [[0.1,800],[0.8,750],[0.85,450],[0.55,200],[0.3,40],[0.3,60],[0.45,250],[0.1,450]],
 [[0.15,500],[0.85,650],[0.6,250],[0.3,60],[0.15,10],[0.17,14],[0.4,200],[0.15,450]],
 [[0.1,700],[1.2,650],[1.1,300],[0.7,120],[0.45,60],[0.45,80],[0.6,250],[0.1,250]],
 [[0.1,700],[1.5,650],[1.3,300],[0.8,100],[0.6,60],[0.6,80],[0.8,250],[0.1,250]],
 [[0.1,500],[1.6,550],[1.3,300],[0.7,60],[0.4,20],[0.45,25],[0.9,250],[0.1,420]],
 [[0.1,700],[2,700],[2,300],[1.2,200],[1.0,100],[1.0,200],[0.8,300],[0.1,300]],
 [[0.1,650],[2,650],[1.8,250],[1.5,150],[1.3,250],[0.1,350]],
 [[0.1,550],[2,550],[1.7,300],[1.5,200],[1.4,300],[0.1,480]]
];
const f3DarkRed = [
 [[0.1,750],[0.5,650],[0.55,420],[0.1,500]],
 [[0.1,750],[0.6,700],[0.65,420],[0.1,500]],
 [[0.8,600],[0.95,650],[0.8,450],[0.7,420]],
 [[0.1,650],[0.9,600],[0.9,320],[0.1,300]],
 [[0.1,650],[1.0,600],[1.0,320],[0.1,300]],
 [[0.8,500],[1.4,520],[1.2,380],[0.9,430]],
 [[0.1,650],[1.5,650],[1.5,350],[0.1,350]],
 [[0.1,600],[1.8,600],[1.6,350],[0.1,380]],
 [[0.9,550],[1.8,530],[1.6,380],[0.9,480]]
];
const f3PulsarD = [0.9,1.0,1.1,1.2,1.3,1.4,1.5,1.6,1.7,1.8,1.9,1.05,1.25,1.45,1.65,1.85,0.95,1.15,1.35,1.55,1.75,1.95,0.7,0.8,0.6,0.5,0.4,0.3,0.25,0.2,0.15,1.3,1.6,1.8,1.1,0.85,1.5,1.7];
const f3PulsarA = [3e4,8e4,2e4,5e4,1.2e4,7e4,3e4,1.5e4,6e4,2.5e4,9e4,4e3,6e3,2.2e3,9e3,3.5e3,1.5e4,4e4,8e3,5e4,1.8e4,4e4,6e4,2.5e4,9e4,3e4,7e4,4e4,8e4,2e4,6e4,1.2e3,1.5e3,1.8e3,2.5e3,1.2e4,8e4,3e3];
const f3SnrD = [0.3,0.4,0.5,0.6,0.7,0.8,0.9,1.0,1.2,1.4,1.5,1.6,1.7,1.8,1.9,1.5,1.7,1.3,0.6,1.1];
const f3SnrA = [5,12,8,3,20,6,40,15,4,30,10,50,7,25,4,60,18,9,30,2];
const f3ALine2 = [[0.1,25],[1.4,25000]];
const f3ALine3 = [[0.25,1],[2,160]];

// ---------- helpers ----------
const NS = "http://www.w3.org/2000/svg";
const svg = document.getElementById("figs");
function mk(tag, attrs, parent){ const e=document.createElementNS(NS,tag); for(const k in attrs) e.setAttribute(k,attrs[k]); (parent||svg).appendChild(e); return e; }
function logScale(d0,d1,r0,r1){ return v => r0 + (Math.log10(v)-d0)/(d1-d0)*(r1-r0); }
function txt(x,y,s,size,anchor,parent,fill,extra){ const t=mk("text",Object.assign({x:x,y:y,"font-size":size,"text-anchor":anchor||"start",fill:fill||"#111"},extra||{}),parent); t.textContent=s; return t; }
function pow10(x,y,exp,size,anchor,parent){ const t=mk("text",{x:x,y:y,"font-size":size,"text-anchor":anchor,fill:"#111"},parent); const a=document.createElementNS(NS,"tspan"); a.textContent="10"; t.appendChild(a); const b=document.createElementNS(NS,"tspan"); b.setAttribute("dy",-size*0.45); b.setAttribute("font-size",size*0.65); b.textContent=String(exp); t.appendChild(b); return t; }
function line(xs,ys,sx,sy,color,w,dash,parent,name){
  let d=""; for(let i=0;i<xs.length;i++){ d+=(i?"L":"M")+sx(xs[i]).toFixed(2)+","+sy(ys[i]).toFixed(2); }
  const p=mk("path",{d:d,fill:"none",stroke:color,"stroke-width":w,"stroke-dasharray":dash||"none","stroke-linejoin":"round"},parent);
  
  
  return p;
}
let clipN=0;
function frame(x0,y0,x1,y1,name){
  const g=mk("g",{});
  
  
  const id="c"+(clipN++);
  const cp=mk("clipPath",{id:id},g); mk("rect",{x:x0,y:y0,width:x1-x0,height:y1-y0},cp);
  const inner=mk("g",{"clip-path":"url(#"+id+")"},g);
  return {g:g,inner:inner};
}
function box(g,x0,y0,x1,y1){ mk("rect",{x:x0,y:y0,width:x1-x0,height:y1-y0,fill:"none",stroke:"#111","stroke-width":1.4},g); }
function logTicks(g,sc,lo,hi,axis,a0,a1,maj,minr){
  for(let e=Math.floor(lo);e<=Math.ceil(hi);e++){
    for(let m=1;m<10;m++){
      const v=m*Math.pow(10,e); const lv=Math.log10(v); if(lv<lo||lv>hi) continue;
      const L=(m===1)?maj:minr; const p=sc(v);
      if(axis==="x"){ mk("line",{x1:p,x2:p,y1:a1,y2:a1-L,stroke:"#111","stroke-width":1},g); mk("line",{x1:p,x2:p,y1:a0,y2:a0+L,stroke:"#111","stroke-width":1},g); }
      else { mk("line",{y1:p,y2:p,x1:a0,x2:a0+L,stroke:"#111","stroke-width":1},g); mk("line",{y1:p,y2:p,x1:a1,x2:a1-L,stroke:"#111","stroke-width":1},g); }
    }
  }
}

// ---------- Figure 1 ----------
function fig1Panel(x0,x1,name,curves,legendColor,corner){
  const y0=129,y1=377;
  const sx=logScale(-0.3,5.4,x0,x1), sy=logScale(1.7,-4.28,y0,y1);
  const f=frame(x0,y0,x1,y1,name);
  for(const c of curves){ line(c[0],c[1],sx,sy,c[2],c[3]||1.5,c[4],f.inner,c[5]); }
  box(f.g,x0,y0,x1,y1);
  logTicks(f.g,sx,-0.3,5.4,"x",y0,y1,5,2.5);
  logTicks(f.g,sy,-4.28,1.7,"y",x0,x1,5,2.5);
  for(const e of f1XTicks) pow10(sx(Math.pow(10,e)),390,e,9.5,"middle",f.g);
  for(const e of f1YTicks) pow10(x0-5,sy(Math.pow(10,e))+3.5,e,9.5,"end",f.g);
  txt((x0+x1)/2,409,"detection Energy [GeV]",9.5,"middle",f.g);
  const yl=mk("text",{x:0,y:0,"font-size":9.5,"text-anchor":"middle",transform:"translate("+(x0-32)+",253) rotate(-90)"},f.g);
  yl.textContent="E"; const ts=document.createElementNS(NS,"tspan"); ts.setAttribute("dy",-4); ts.setAttribute("font-size",6.5); ts.textContent="1+σ"; yl.appendChild(ts); const ts2=document.createElementNS(NS,"tspan"); ts2.setAttribute("dy",4); ts2.textContent=" positron flux"; yl.appendChild(ts2);
  txt(x1,125,"Delahaye, Kotera and Silk (2014)",9,"end",f.g);
  txt(x1-12,149,corner,9,"end",f.g);
  const leg=[["σ = 1.0","none"],["σ = 1.5","6,4"],["σ = 2.0","2,4"]];
  leg.forEach((l,i)=>{ const yy=166+i*12; txt(x0+15,yy+3,l[0],9,"start",f.g); mk("line",{x1:x0+70,x2:x0+99,y1:yy,y2:yy,stroke:legendColor,"stroke-width":1.6,"stroke-dasharray":l[1]},f.g); });
  return {g:f.g,sx:sx,sy:sy};
}
const p1=fig1Panel(987,1252,"figure1-left-panel",[
  [f1Age10kyrE,f1Age10kyrF,"#111",1.6,null,"curve-10kyr"],
  [f1Age10kyrDotE,f1Age10kyrDotF,"#111",1.4,"2,3","curve-10kyr-dotted"],
  [f1Age50kyrE,f1Age50kyrF,"#3a0a0a",1.6,null,"curve-50kyr"],
  [f1Age50kyrDotE,f1Age50kyrDotF,"#3a0a0a",1.4,"2,3","curve-50kyr-dotted"],
  [f1Age01MyrE,f1Age01MyrF,"#5a0c0c",1.6,null,"curve-0.1myr"],
  [f1Age05MyrE,f1Age05MyrF,"#7a1010",1.6,null,"curve-0.5myr"],
  [f1Age1MyrE,f1Age1MyrF,"#a01010",1.6,null,"curve-1myr"],
  [f1Age5MyrE,f1Age5MyrF,"#e01818",1.6,null,"curve-5myr"]
],"#c01818","med, d = 500 pc");
[[f1AgeLabels[0],3000,5,"#111"],[f1AgeLabels[1],200,0.9,"#3a0a0a"],[f1AgeLabels[2],35,0.12,"#5a0c0c"],[f1AgeLabels[3],4,0.014,"#7a1010"],[f1AgeLabels[4],1.7,0.0032,"#a01010"],[f1AgeLabels[5],0.6,0.00085,"#e01818"]].forEach(l=>{
  const t=txt(p1.sx(l[1]),p1.sy(l[2]),l[0],9,"middle",p1.g,l[3]);
  
});
const p2=fig1Panel(1319,1585,"figure1-right-panel",[
  [f1D100E,f1D100F,"#2030d8",1.6,null,"curve-100pc"],
  [f1D200E,f1D200F,"#1a28b8",1.6,null,"curve-200pc"],
  [f1D300E,f1D300F,"#1420a0",1.6,null,"curve-300pc"],
  [f1D500E,f1D500F,"#101884",1.6,null,"curve-500pc"],
  [f1D1kE,f1D1kF,"#0a0a40",1.6,null,"curve-1kpc"],
  [f1D2kE,f1D2kF,"#111",1.6,null,"curve-2kpc"]
],"#2030d8","med, age = 50 kyr");
[[f1DistLabels[0],1.6,0.25,"#2030d8",-55],[f1DistLabels[1],1.9,0.0015,"#1a28b8",-75],[f1DistLabels[2],6.5,0.0015,"#1420a0",-75],[f1DistLabels[3],22,0.0015,"#101884",-75],[f1DistLabels[4],140,0.0015,"#0a0a40",-75],[f1DistLabels[5],900,0.0015,"#111",-75]].forEach(l=>{
  const x=p2.sx(l[1]), y=p2.sy(l[2]);
  const t=txt(0,0,l[0],9,"middle",p2.g,l[3],{transform:"translate("+x+","+y+") rotate("+l[4]+")","font-style":"italic"});
  
});

// ---------- Figure 2 ----------
function fig2Panel(x0,x1,name,series,dataF,dataColor,mockE,mockF,mockErr,mockColor){
  const y0=132,y1=342;
  const sx=logScale(-0.32,3.19,x0,x1), sy=logScale(-0.31,-2.54,y0,y1);
  const f=frame(x0,y0,x1,y1,name);
  for(let i=0;i<f2DataE.length;i++){
    const b=mk("rect",{x:sx(f2DataE[i])-2.5,y:sy(dataF[i]*1.06),width:5,height:sy(dataF[i]*0.94)-sy(dataF[i]*1.06),fill:dataColor,opacity:0.75},f.inner);
    
  }
  for(let i=0;i<mockE.length;i++){
    const x=sx(mockE[i]); const hi=sy(mockF[i]+mockErr[i]); const lo=sy(Math.max(mockF[i]-mockErr[i],1e-4));
    const e=mk("path",{d:"M"+x+","+hi+"V"+lo+"M"+(x-2)+","+hi+"H"+(x+2)+"M"+(x-2)+","+lo+"H"+(x+2),stroke:mockColor,"stroke-width":1.5,fill:"none"},f.inner);
    
  }
  for(const s of series) line(s[0],s[1],sx,sy,s[2],1.3,null,f.inner,s[3]);
  box(f.g,x0,y0,x1,y1);
  logTicks(f.g,sx,-0.32,3.19,"x",y0,y1,5,2.5);
  logTicks(f.g,sy,-2.54,-0.31,"y",x0,x1,5,2.5);
  for(const v of f2XTicks) txt(sx(v),357,String(v),10,"middle",f.g);
  for(const v of f2YTicks) txt(x0-4,sy(v)+4,String(v),10,"end",f.g);
  txt((x0+x1)/2,378,"detection Energy [GeV]",10,"middle",f.g);
  txt(0,0,"positron fraction : e+ / e+ + e-",10,"middle",f.g,"#111",{transform:"translate("+(x0-50)+",236) rotate(-90)"});
  txt(x1-2,129,"Delahaye, Kotera and Silk (2014)",5.5,"end",f.g);
  const cols=["#40e040","#2030d0","#e03030","#707050","#333"];
  f2SeriesNames.forEach((n,i)=>{ const yy=269+i*13.5; txt(x0+27,yy+4,n,10,"end",f.g); mk("line",{x1:x0+33,x2:x0+67,y1:yy,y2:yy,stroke:cols[i],"stroke-width":1.5},f.g); });
}
fig2Panel(1889,2097,"figure2-left-panel",[
  [f2aEeE,f2aEeF,"#40e040","series-ee"],[f2aMuE,f2aMuF,"#2030d0","series-mu"],[f2a20E,f2a20F,"#e03030","series-2.0"],[f2a15E,f2a15F,"#707050","series-1.5"],[f2a10E,f2a10F,"#222","series-1.0"]
],f2DataAF,"#4aa8ea",f2MockAE,f2MockAF,f2MockAErr,"#1a2aa0");
fig2Panel(2188,2397,"figure2-right-panel",[
  [f2bEeE,f2bEeF,"#40e040","series-ee"],[f2bMuE,f2bMuF,"#2030d0","series-mu"],[f2b20E,f2b20F,"#e03030","series-2.0"],[f2b15E,f2b15F,"#707050","series-1.5"],[f2b10E,f2b10F,"#222","series-1.0"]
],f2DataBF,"#c06060",f2MockBE,f2MockBF,f2MockBErr,"#a01818");

// ---------- Figure 3 ----------
const f3ColX = [[1815,1900],[1905,1990],[1997,2083]];
const f3RowY = [[536,619],[619,702],[702,785]];
const f3TitleColors = ["#e03030","#8a8a50","#222"];
for(let r=0;r<3;r++){
  for(let c=0;c<3;c++){
    const k=r*3+c; const x0=f3ColX[c][0],x1=f3ColX[c][1],y0=f3RowY[r][0],y1=f3RowY[r][1];
    const sx=logScale(-1,0.301,x0,x1), sy=logScale(4.7,0,y0,y1);
    const f=frame(x0,y0,x1,y1,"figure3-panel-"+f3RowTitles[r]+"-"+(c+1));
    const bb=f3BlueBand[k];
    const band=mk("rect",{x:sx(bb[0]),y:sy(bb[3]),width:sx(bb[1])-sx(bb[0]),height:sy(bb[2])-sy(bb[3]),fill:(c===2?"#3aa0e8":"#0a1a8a")},f.inner);
    
    const poly=(pts,col)=>{ const p=mk("polygon",{points:pts.map(q=>sx(q[0]).toFixed(1)+","+sy(q[1]).toFixed(1)).join(" "),fill:col},f.inner); return p; };
    const lr=poly(f3LightRed[k],"#c65454");
    
    const dr=poly(f3DarkRed[k],"#8a0606");
    
    line([f3ALine2[0][0],f3ALine2[1][0]],[f3ALine2[0][1],f3ALine2[1][1]],sx,sy,"#5a5ad8",0.8,"3,2",f.inner,"anisotropy-line-a2");
    line([f3ALine3[0][0],f3ALine3[1][0]],[f3ALine3[0][1],f3ALine3[1][1]],sx,sy,"#7a7ab8",0.8,"3,2",f.inner,"anisotropy-line-a3");
    for(let i=0;i<f3PulsarD.length;i++){ const d=mk("rect",{x:sx(f3PulsarD[i])-0.6,y:sy(f3PulsarA[i])-0.6,width:1.3,height:1.3,fill:"#a070e0"},f.inner);  }
    for(let i=0;i<f3SnrD.length;i++){ const d=mk("rect",{x:sx(f3SnrD[i])-0.6,y:sy(f3SnrA[i])-0.6,width:1.3,height:1.3,fill:"#f0a020"},f.inner);  }
    mk("rect",{x:x0,y:y0,width:x1-x0,height:y1-y0,fill:"none",stroke:"#777","stroke-width":0.8},f.g);
    logTicks(f.g,sx,-1,0.301,"x",y0,y1,3,1.5);
    txt(x0+2,y0+8,f3RowTitles[r],7,"start",f.g);
    txt(x0+5,sy(1300),"A=10⁻¹",4.5,"start",f.g,"#30a0a0");
    if(c===0){ [[10000,"10⁴"],[1000,"10³"],[100,"10²"],[10,"10"],[1,"1"]].forEach(t=>txt(x0-3,sy(t[0])+2,t[1],5,"end",f.g)); txt(0,0,"age [kyr]",5,"middle",f.g,"#111",{transform:"translate("+(x0-12)+","+((y0+y1)/2)+") rotate(-90)"}); }
    if(r===0) txt((x0+x1)/2,y0-3,f3ColTitles[c],6.5,"middle",f.g,f3TitleColors[c]);
    if(r===2){ txt(x0,y1+7,"0.1",4.5,"middle",f.g); txt(sx(1),y1+7,"1",4.5,"middle",f.g); txt((x0+x1)/2,y1+16,"Distance [kpc]",5,"middle",f.g); }
    if(r===2&&c===2){ txt(x0+20,y0+7,"Drop at 350 GeV",4.5,"start",f.g,"#2030c0"); txt(x0+20,y0+13,"Drop at 600 GeV",4.5,"start",f.g,"#b03030"); }
  }
}
txt(0,0,"Delahaye, Kotera and Silk (2014)",4.5,"middle",svg,"#555",{transform:"translate(2087,570) rotate(90)"});
</script>
</body></html>
